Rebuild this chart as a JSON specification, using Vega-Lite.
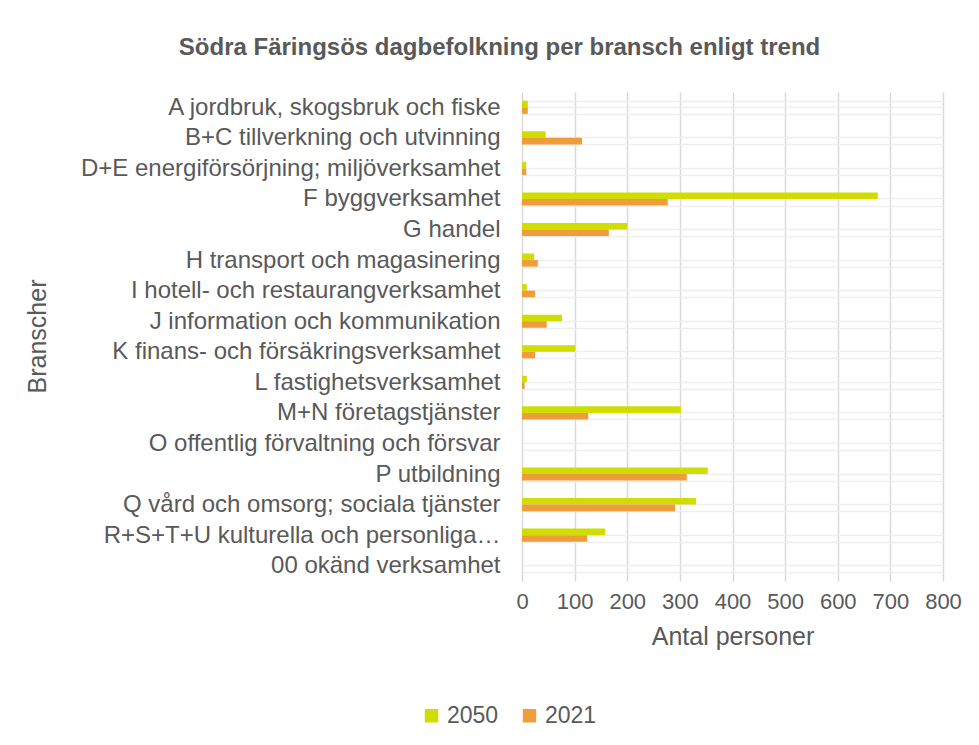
{
  "$schema": "https://vega.github.io/schema/vega-lite/v6.json",
  "width": 421,
  "height": 489,
  "autosize": {"type": "none"},
  "padding": {"left": 522, "top": 92, "right": 36, "bottom": 164},
  "background": "white",
  "config": {"font": "Liberation Sans", "view": {"stroke": null}},
  "title": {
    "text": "Södra Färingsös dagbefolkning per bransch enligt trend",
    "fontSize": 24,
    "fontWeight": "bold",
    "color": "#595959",
    "anchor": "middle",
    "dx": -233,
    "offset": 20
  },
  "data": {
    "values": [
      {"bransch": "A jordbruk, skogsbruk och fiske", "ar": "2050", "antal": 11},
      {"bransch": "A jordbruk, skogsbruk och fiske", "ar": "2021", "antal": 11},
      {"bransch": "B+C tillverkning och utvinning", "ar": "2050", "antal": 45},
      {"bransch": "B+C tillverkning och utvinning", "ar": "2021", "antal": 114},
      {"bransch": "D+E energiförsörjning; miljöverksamhet", "ar": "2050", "antal": 8},
      {"bransch": "D+E energiförsörjning; miljöverksamhet", "ar": "2021", "antal": 8},
      {"bransch": "F byggverksamhet", "ar": "2050", "antal": 676},
      {"bransch": "F byggverksamhet", "ar": "2021", "antal": 277},
      {"bransch": "G handel", "ar": "2050", "antal": 200},
      {"bransch": "G handel", "ar": "2021", "antal": 165},
      {"bransch": "H transport och magasinering", "ar": "2050", "antal": 23},
      {"bransch": "H transport och magasinering", "ar": "2021", "antal": 30},
      {"bransch": "I hotell- och restaurangverksamhet", "ar": "2050", "antal": 9},
      {"bransch": "I hotell- och restaurangverksamhet", "ar": "2021", "antal": 25},
      {"bransch": "J information och kommunikation", "ar": "2050", "antal": 76},
      {"bransch": "J information och kommunikation", "ar": "2021", "antal": 47},
      {"bransch": "K finans- och försäkringsverksamhet", "ar": "2050", "antal": 101},
      {"bransch": "K finans- och försäkringsverksamhet", "ar": "2021", "antal": 25},
      {"bransch": "L fastighetsverksamhet", "ar": "2050", "antal": 9},
      {"bransch": "L fastighetsverksamhet", "ar": "2021", "antal": 5},
      {"bransch": "M+N företagstjänster", "ar": "2050", "antal": 302},
      {"bransch": "M+N företagstjänster", "ar": "2021", "antal": 126},
      {"bransch": "O offentlig förvaltning och försvar", "ar": "2050", "antal": 0},
      {"bransch": "O offentlig förvaltning och försvar", "ar": "2021", "antal": 0},
      {"bransch": "P utbildning", "ar": "2050", "antal": 353},
      {"bransch": "P utbildning", "ar": "2021", "antal": 313},
      {"bransch": "Q vård och omsorg; sociala tjänster", "ar": "2050", "antal": 331},
      {"bransch": "Q vård och omsorg; sociala tjänster", "ar": "2021", "antal": 291},
      {"bransch": "R+S+T+U kulturella och personliga…", "ar": "2050", "antal": 158},
      {"bransch": "R+S+T+U kulturella och personliga…", "ar": "2021", "antal": 124},
      {"bransch": "00 okänd verksamhet", "ar": "2050", "antal": 0},
      {"bransch": "00 okänd verksamhet", "ar": "2021", "antal": 0}
    ]
  },
  "layer": [
    {
      "mark": {"type": "bar"},
      "encoding": {
        "y": {
          "field": "bransch",
          "type": "nominal",
          "sort": null,
          "scale": {"paddingInner": 0.57, "paddingOuter": 0.285},
          "axis": {
            "title": "Branscher",
            "titleFontSize": 25,
            "titleFontWeight": "normal",
            "titleColor": "#595959",
            "titleX": -485,
            "titleY": 244,
            "titleAngle": -90,
            "titleBaseline": "middle",
            "titleAlign": "center",
            "labelFontSize": 24,
            "labelColor": "#595959",
            "labelPadding": 22,
            "labelLimit": 500,
            "grid": true,
            "tickBand": "extent",
            "gridColor": "#eeeeee",
            "gridWidth": 1.5,
            "domain": false,
            "ticks": false
          }
        },
        "x": {
          "field": "antal",
          "type": "quantitative",
          "scale": {"domain": [0, 800], "nice": false},
          "axis": {
            "values": [0, 100, 200, 300, 400, 500, 600, 700, 800],
            "title": "Antal personer",
            "titleFontSize": 25,
            "titleFontWeight": "normal",
            "titleColor": "#595959",
            "titlePadding": 12,
            "labelFontSize": 22,
            "labelColor": "#595959",
            "labelPadding": 10,
            "labelOverlap": false,
            "labelFlush": false,
            "grid": true,
            "gridColor": "#d9d9d9",
            "gridWidth": 1.5,
            "domain": false,
            "ticks": false
          }
        },
        "yOffset": {"field": "ar", "type": "nominal", "sort": ["2050", "2021"]},
        "color": {
          "field": "ar",
          "type": "nominal",
          "sort": ["2050", "2021"],
          "scale": {"domain": ["2050", "2021"], "range": ["#cfdd00", "#ef9c3a"]},
          "legend": {
            "title": null,
            "orient": "none",
            "direction": "horizontal",
            "legendX": -102,
            "legendY": 612,
            "symbolType": "square",
            "symbolSize": 180,
            "symbolStrokeWidth": 0,
            "labelFontSize": 23,
            "labelColor": "#595959",
            "labelOffset": 4,
            "columnPadding": 19
          }
        }
      }
    },
    {
      "mark": {"type": "tick", "opacity": 0},
      "encoding": {
        "y": {
          "field": "bransch",
          "type": "nominal",
          "sort": null,
          "axis": {
            "title": null,
            "labels": false,
            "grid": true,
            "gridColor": "#eeeeee",
            "gridWidth": 1.5,
            "domain": false,
            "ticks": false
          }
        },
        "x": {"field": "antal", "type": "quantitative"}
      }
    }
  ],
  "resolve": {"axis": {"y": "independent"}}
}
